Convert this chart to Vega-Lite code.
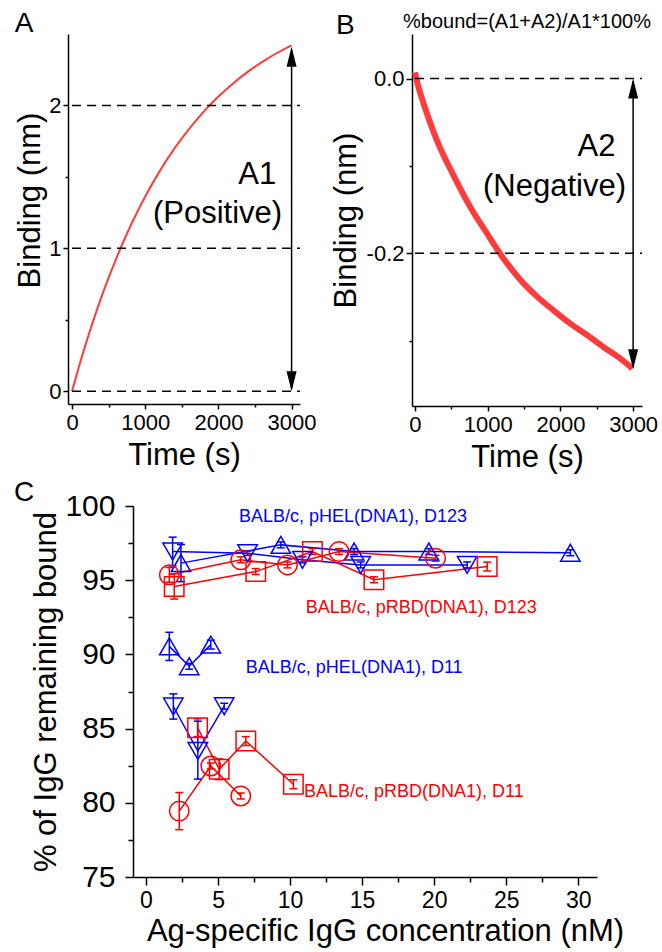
{
  "$schema": "https://vega.github.io/schema/vega-lite/v6.json",
  "padding": {"left": 13, "top": 10, "right": 2, "bottom": 2},
  "spacing": 7,
  "config": {
    "font": "Liberation Sans",
    "view": {"stroke": null},
    "axis": {"grid": false, "domainColor": "black", "tickColor": "black", "labelColor": "black", "titleColor": "black", "titleFontWeight": "normal", "labelFont": "Liberation Sans", "titleFont": "Liberation Sans", "domainWidth": 1.5, "tickWidth": 1.5, "labelFlush": false, "labelOverlap": false},
    "title": {"fontWeight": "normal", "font": "Liberation Sans", "anchor": "start", "frame": "bounds", "fontSize": 28, "color": "black"}
  },
  "datasets": {
    "curveA": [
      {"t": 0, "y": 0}, {"t": 100, "y": 0.181}, {"t": 200, "y": 0.350}, {"t": 300, "y": 0.508}, {"t": 400, "y": 0.656},
      {"t": 500, "y": 0.794}, {"t": 600, "y": 0.923}, {"t": 700, "y": 1.044}, {"t": 800, "y": 1.158}, {"t": 900, "y": 1.263},
      {"t": 1000, "y": 1.363}, {"t": 1200, "y": 1.542}, {"t": 1400, "y": 1.699}, {"t": 1600, "y": 1.836}, {"t": 1800, "y": 1.957},
      {"t": 2000, "y": 2.062}, {"t": 2200, "y": 2.154}, {"t": 2400, "y": 2.235}, {"t": 2600, "y": 2.305}, {"t": 2800, "y": 2.367},
      {"t": 3000, "y": 2.421}
    ],
    "curveB": [
      {"t": 0, "y": 0.007}, {"t": 30, "y": -0.004}, {"t": 70, "y": -0.016}, {"t": 124, "y": -0.030}, {"t": 307, "y": -0.072},
      {"t": 537, "y": -0.112}, {"t": 766, "y": -0.148}, {"t": 995, "y": -0.178}, {"t": 1225, "y": -0.207}, {"t": 1454, "y": -0.231},
      {"t": 1683, "y": -0.250}, {"t": 1913, "y": -0.266}, {"t": 2142, "y": -0.281}, {"t": 2372, "y": -0.294}, {"t": 2601, "y": -0.308},
      {"t": 2830, "y": -0.321}, {"t": 2990, "y": -0.332}
    ],
    "dashA": [{"y": 0, "t0": 0, "t1": 3115}, {"y": 1, "t0": 0, "t1": 3115}, {"y": 2, "t0": 0, "t1": 3115}],
    "dashB": [{"y": 0, "t0": 0, "t1": 3122}, {"y": -0.2, "t0": 0, "t1": 3122}],
    "arrowA": [{"t": 3000, "y1": 0.02, "y2": 2.39}],
    "headAup": [{"t": 3000, "y": 2.41}],
    "headAdown": [{"t": 3000, "y": 0.0}],
    "arrowB": [{"t": 3000, "y1": -0.003, "y2": -0.330}],
    "headBup": [{"t": 3000, "y": 0.0}],
    "headBdown": [{"t": 3000, "y": -0.333}],
    "textA": [{"t": 2530, "y": 1.448, "label": "A1"}, {"t": 1988, "y": 1.175, "label": "(Positive)"}],
    "textB": [{"t": 2497, "y": -0.0885, "label": "A2"}, {"t": 1919, "y": -0.1344, "label": "(Negative)"}],
    "noteB": [{"t": 1541, "y": 0.058, "label": "%bound=(A1+A2)/A1*100%"}],
    "minorA": [{"t": 500, "y": 0.5}, {"t": 1500, "y": 1.5}],
    "minorB": [{"t": 500, "y": -0.1}, {"t": 1500, "y": -0.3}],
    "minorC": [{"x": 2.5, "y": 77.5}, {"x": 7.5, "y": 82.5}],
    "spacer": [{"v": 0}],
    "pts": [
      {"g": "HEL123up", "strain": "pHEL", "sym": "up", "x": 2.43, "y": 96.15, "lo": 94.9, "hi": 97.4},
      {"g": "HEL123up", "strain": "pHEL", "sym": "up", "x": 9.36, "y": 97.38, "lo": 97.18, "hi": 97.58},
      {"g": "HEL123up", "strain": "pHEL", "sym": "up", "x": 14.44, "y": 96.93, "lo": 96.73, "hi": 97.13},
      {"g": "HEL123up", "strain": "pHEL", "sym": "up", "x": 19.63, "y": 96.93, "lo": 96.73, "hi": 97.13},
      {"g": "HEL123up", "strain": "pHEL", "sym": "up", "x": 29.45, "y": 96.85, "lo": 96.65, "hi": 97.05},
      {"g": "HEL123down", "strain": "pHEL", "sym": "down", "x": 1.85, "y": 96.93, "lo": 95.96, "hi": 97.9},
      {"g": "HEL123down", "strain": "pHEL", "sym": "down", "x": 7.05, "y": 96.82, "lo": 96.67, "hi": 96.97},
      {"g": "HEL123down", "strain": "pHEL", "sym": "down", "x": 10.86, "y": 96.37, "lo": 96.17, "hi": 96.57},
      {"g": "HEL123down", "strain": "pHEL", "sym": "down", "x": 14.9, "y": 96.03, "lo": 95.83, "hi": 96.23},
      {"g": "HEL123down", "strain": "pHEL", "sym": "down", "x": 22.29, "y": 96.03, "lo": 95.83, "hi": 96.23},
      {"g": "RBD123circle", "strain": "pRBD", "sym": "circle", "x": 1.62, "y": 95.36, "lo": 94.86, "hi": 95.86},
      {"g": "RBD123circle", "strain": "pRBD", "sym": "circle", "x": 6.58, "y": 96.37, "lo": 96.17, "hi": 96.57},
      {"g": "RBD123circle", "strain": "pRBD", "sym": "circle", "x": 9.82, "y": 96.03, "lo": 95.83, "hi": 96.23},
      {"g": "RBD123circle", "strain": "pRBD", "sym": "circle", "x": 13.4, "y": 96.93, "lo": 96.73, "hi": 97.13},
      {"g": "RBD123circle", "strain": "pRBD", "sym": "circle", "x": 20.1, "y": 96.48, "lo": 96.28, "hi": 96.68},
      {"g": "RBD123square", "strain": "pRBD", "sym": "square", "x": 1.96, "y": 94.58, "lo": 93.73, "hi": 95.43},
      {"g": "RBD123square", "strain": "pRBD", "sym": "square", "x": 7.62, "y": 95.58, "lo": 95.38, "hi": 95.78},
      {"g": "RBD123square", "strain": "pRBD", "sym": "square", "x": 11.55, "y": 96.93, "lo": 96.73, "hi": 97.13},
      {"g": "RBD123square", "strain": "pRBD", "sym": "square", "x": 15.82, "y": 95.03, "lo": 94.83, "hi": 95.23},
      {"g": "RBD123square", "strain": "pRBD", "sym": "square", "x": 23.68, "y": 95.92, "lo": 95.62, "hi": 96.22},
      {"g": "HEL11up", "strain": "pHEL", "sym": "up", "x": 1.62, "y": 90.54, "lo": 89.59, "hi": 91.49},
      {"g": "HEL11up", "strain": "pHEL", "sym": "up", "x": 3.0, "y": 89.2, "lo": 89.0, "hi": 89.4},
      {"g": "HEL11up", "strain": "pHEL", "sym": "up", "x": 4.5, "y": 90.66, "lo": 90.36, "hi": 90.96},
      {"g": "HEL11down", "strain": "pHEL", "sym": "down", "x": 1.9, "y": 86.49, "lo": 85.64, "hi": 87.34},
      {"g": "HEL11down", "strain": "pHEL", "sym": "down", "x": 3.6, "y": 83.49, "lo": 81.6, "hi": 85.5},
      {"g": "HEL11down", "strain": "pHEL", "sym": "down", "x": 5.43, "y": 86.51, "lo": 86.31, "hi": 86.71},
      {"g": "RBD11circle", "strain": "pRBD", "sym": "circle", "x": 2.31, "y": 79.44, "lo": 78.19, "hi": 80.69},
      {"g": "RBD11circle", "strain": "pRBD", "sym": "circle", "x": 4.5, "y": 82.48, "lo": 82.28, "hi": 82.68},
      {"g": "RBD11circle", "strain": "pRBD", "sym": "circle", "x": 6.58, "y": 80.46, "lo": 80.26, "hi": 80.66},
      {"g": "RBD11square", "strain": "pRBD", "sym": "square", "x": 3.58, "y": 85.06, "lo": 84.46, "hi": 85.66},
      {"g": "RBD11square", "strain": "pRBD", "sym": "square", "x": 5.08, "y": 82.26, "lo": 81.56, "hi": 82.96},
      {"g": "RBD11square", "strain": "pRBD", "sym": "square", "x": 6.93, "y": 84.16, "lo": 83.86, "hi": 84.46},
      {"g": "RBD11square", "strain": "pRBD", "sym": "square", "x": 10.23, "y": 81.25, "lo": 80.95, "hi": 81.55}
    ],
    "labelsC": [
      {"x": 6.45, "y": 98.94, "strain": "pHEL", "label": "BALB/c, pHEL(DNA1), D123"},
      {"x": 11.09, "y": 92.79, "strain": "pRBD", "label": "BALB/c, pRBD(DNA1), D123"},
      {"x": 6.93, "y": 88.76, "strain": "pHEL", "label": "BALB/c, pHEL(DNA1), D11"},
      {"x": 10.97, "y": 80.36, "strain": "pRBD", "label": "BALB/c, pRBD(DNA1), D11"}
    ]
  },
  "vconcat": [
    {
      "hconcat": [
        {
          "width": 232, "height": 370,
          "title": {"text": "A", "offset": -4},
          "resolve": {"axis": {"x": "independent", "y": "independent"}},
          "layer": [
            {
              "data": {"name": "curveA"},
              "mark": {"type": "line", "color": "#ff3c3c", "strokeWidth": 2, "interpolate": "monotone"},
              "encoding": {
                "x": {"field": "t", "type": "quantitative", "scale": {"domain": [-55, 3115], "nice": false, "zero": false},
                      "axis": {"values": [0, 1000, 2000, 3000], "format": "d", "title": "Time (s)", "labelFontSize": 22, "titleFontSize": 31, "tickSize": 5, "labelPadding": 3, "titlePadding": 7}},
                "y": {"field": "y", "type": "quantitative", "scale": {"domain": [-0.09, 2.5], "nice": false, "zero": false},
                      "axis": {"values": [0, 1, 2], "title": "Binding (nm)", "labelFontSize": 22, "titleFontSize": 31, "tickSize": 5, "labelPadding": 2, "titlePadding": 2, "titleY": 166}}
              }
            },
            {
              "data": {"name": "minorA"},
              "mark": {"type": "point", "opacity": 0},
              "encoding": {
                "x": {"field": "t", "type": "quantitative", "axis": {"values": [500, 1500, 2500], "labels": false, "title": null, "tickSize": 3, "domain": false, "orient": "bottom"}},
                "y": {"field": "y", "type": "quantitative", "axis": {"values": [0.5, 1.5], "labels": false, "title": null, "tickSize": 3, "domain": false, "orient": "left"}}
              }
            },
            {
              "data": {"name": "dashA"},
              "mark": {"type": "rule", "color": "black", "strokeWidth": 1.5, "strokeDash": [9, 6]},
              "encoding": {
                "x": {"field": "t0", "type": "quantitative", "axis": null},
                "x2": {"field": "t1"},
                "y": {"field": "y", "type": "quantitative", "axis": null}
              }
            },
            {
              "data": {"name": "arrowA"},
              "mark": {"type": "rule", "color": "black", "strokeWidth": 1.5},
              "encoding": {
                "x": {"field": "t", "type": "quantitative", "axis": null},
                "y": {"field": "y1", "type": "quantitative", "axis": null},
                "y2": {"field": "y2"}
              }
            },
            {
              "data": {"name": "headAup"},
              "mark": {"type": "point", "filled": true, "color": "black", "size": 400, "opacity": 1, "shape": "M0,0L0.5,2L-0.5,2Z"},
              "encoding": {
                "x": {"field": "t", "type": "quantitative", "axis": null},
                "y": {"field": "y", "type": "quantitative", "axis": null}
              }
            },
            {
              "data": {"name": "headAdown"},
              "mark": {"type": "point", "filled": true, "color": "black", "size": 400, "opacity": 1, "shape": "M0,0L0.5,-2L-0.5,-2Z"},
              "encoding": {
                "x": {"field": "t", "type": "quantitative", "axis": null},
                "y": {"field": "y", "type": "quantitative", "axis": null}
              }
            },
            {
              "data": {"name": "textA"},
              "mark": {"type": "text", "fontSize": 31, "align": "center", "baseline": "alphabetic", "color": "black"},
              "encoding": {
                "x": {"field": "t", "type": "quantitative", "axis": null},
                "y": {"field": "y", "type": "quantitative", "axis": null},
                "text": {"field": "label"}
              }
            }
          ]
        },
        {
          "width": 230, "height": 372,
          "title": {"text": "B", "offset": -28, "dx": 6},
          "resolve": {"axis": {"x": "independent", "y": "independent"}},
          "layer": [
            {
              "data": {"name": "curveB"},
              "mark": {"type": "line", "color": "#ff3b3b", "strokeWidth": 6, "interpolate": "monotone"},
              "encoding": {
                "x": {"field": "t", "type": "quantitative", "scale": {"domain": [-41, 3122], "nice": false, "zero": false},
                      "axis": {"values": [0, 1000, 2000, 3000], "format": "d", "title": "Time (s)", "labelFontSize": 22, "titleFontSize": 31, "tickSize": 5, "labelPadding": 3, "titlePadding": 7}},
                "y": {"field": "y", "type": "quantitative", "scale": {"domain": [-0.375, 0.051], "nice": false, "zero": false},
                      "axis": {"values": [0, -0.2], "labelExpr": "replace(format(datum.value, '.1f'), '\u2212', '-')", "title": "Binding (nm)", "labelFontSize": 22, "titleFontSize": 31, "tickSize": 6, "labelPadding": 2, "titlePadding": 4}}
              }
            },
            {
              "data": {"name": "minorB"},
              "mark": {"type": "point", "opacity": 0},
              "encoding": {
                "x": {"field": "t", "type": "quantitative", "axis": {"values": [500, 1500, 2500], "labels": false, "title": null, "tickSize": 3, "domain": false, "orient": "bottom"}},
                "y": {"field": "y", "type": "quantitative", "axis": {"values": [-0.1, -0.3], "labels": false, "title": null, "tickSize": 3, "domain": false, "orient": "left"}}
              }
            },
            {
              "data": {"name": "dashB"},
              "mark": {"type": "rule", "color": "black", "strokeWidth": 1.5, "strokeDash": [9, 6]},
              "encoding": {
                "x": {"field": "t0", "type": "quantitative", "axis": null},
                "x2": {"field": "t1"},
                "y": {"field": "y", "type": "quantitative", "axis": null}
              }
            },
            {
              "data": {"name": "arrowB"},
              "mark": {"type": "rule", "color": "black", "strokeWidth": 1.5},
              "encoding": {
                "x": {"field": "t", "type": "quantitative", "axis": null},
                "y": {"field": "y1", "type": "quantitative", "axis": null},
                "y2": {"field": "y2"}
              }
            },
            {
              "data": {"name": "headBup"},
              "mark": {"type": "point", "filled": true, "color": "black", "size": 400, "opacity": 1, "shape": "M0,0L0.5,2L-0.5,2Z"},
              "encoding": {
                "x": {"field": "t", "type": "quantitative", "axis": null},
                "y": {"field": "y", "type": "quantitative", "axis": null}
              }
            },
            {
              "data": {"name": "headBdown"},
              "mark": {"type": "point", "filled": true, "color": "black", "size": 400, "opacity": 1, "shape": "M0,0L0.5,-2L-0.5,-2Z"},
              "encoding": {
                "x": {"field": "t", "type": "quantitative", "axis": null},
                "y": {"field": "y", "type": "quantitative", "axis": null}
              }
            },
            {
              "data": {"name": "textB"},
              "mark": {"type": "text", "fontSize": 31, "align": "center", "baseline": "alphabetic", "color": "black"},
              "encoding": {
                "x": {"field": "t", "type": "quantitative", "axis": null},
                "y": {"field": "y", "type": "quantitative", "axis": null},
                "text": {"field": "label"}
              }
            },
            {
              "data": {"name": "noteB"},
              "mark": {"type": "text", "fontSize": 20, "align": "center", "baseline": "alphabetic", "color": "black"},
              "encoding": {
                "x": {"field": "t", "type": "quantitative", "axis": null},
                "y": {"field": "y", "type": "quantitative", "axis": null},
                "text": {"field": "label"}
              }
            }
          ]
        }
      ],
      "spacing": 13
    },
    {
      "hconcat": [
        {
          "width": 1, "height": 1,
          "data": {"name": "spacer"},
          "mark": {"type": "point", "opacity": 0, "size": 1},
          "encoding": {}
        },
        {
          "width": 464, "height": 371,
          "title": {"text": "C", "offset": -16, "dx": -17},
          "resolve": {"axis": {"x": "independent", "y": "independent"}},
          "layer": [
            {
              "data": {"name": "pts"},
              "mark": {"type": "line", "strokeWidth": 1.5},
              "encoding": {
                "x": {"field": "x", "type": "quantitative", "scale": {"domain": [-0.9, 31.3], "nice": false, "zero": false},
                      "axis": {"values": [0, 5, 10, 15, 20, 25, 30], "title": "Ag-specific IgG concentration (nM)", "labelFontSize": 23, "titleFontSize": 31, "tickSize": 8, "labelPadding": 4, "titlePadding": 4, "titleX": 252}},
                "y": {"field": "y", "type": "quantitative", "scale": {"domain": [75, 100], "nice": false, "zero": false},
                      "axis": {"values": [75, 80, 85, 90, 95, 100], "title": "% of IgG remaining bound", "labelFontSize": 30, "titleFontSize": 31, "tickSize": 8, "labelPadding": 10, "titlePadding": 2}},
                "color": {"field": "strain", "type": "nominal", "scale": {"domain": ["pHEL", "pRBD"], "range": ["#0000ff", "#ff0000"]}, "legend": null},
                "detail": {"field": "g", "type": "nominal"}
              }
            },
            {
              "data": {"name": "minorC"},
              "mark": {"type": "point", "opacity": 0},
              "encoding": {
                "x": {"field": "x", "type": "quantitative", "axis": {"values": [2.5, 7.5, 12.5, 17.5, 22.5, 27.5], "labels": false, "title": null, "tickSize": 5, "domain": false, "orient": "bottom"}},
                "y": {"field": "y", "type": "quantitative", "axis": {"values": [77.5, 82.5, 87.5, 92.5, 97.5], "labels": false, "title": null, "tickSize": 5, "domain": false, "orient": "left"}}
              }
            },
            {
              "data": {"name": "pts"},
              "mark": {"type": "rule", "strokeWidth": 1.5},
              "encoding": {
                "x": {"field": "x", "type": "quantitative", "axis": null},
                "y": {"field": "lo", "type": "quantitative", "axis": null},
                "y2": {"field": "hi"},
                "color": {"field": "strain", "type": "nominal", "legend": null}
              }
            },
            {
              "data": {"name": "pts"},
              "mark": {"type": "point", "shape": "stroke", "size": 64, "strokeWidth": 1.5, "opacity": 1},
              "encoding": {
                "x": {"field": "x", "type": "quantitative", "axis": null},
                "y": {"field": "lo", "type": "quantitative", "axis": null},
                "color": {"field": "strain", "type": "nominal", "legend": null}
              }
            },
            {
              "data": {"name": "pts"},
              "mark": {"type": "point", "shape": "stroke", "size": 64, "strokeWidth": 1.5, "opacity": 1},
              "encoding": {
                "x": {"field": "x", "type": "quantitative", "axis": null},
                "y": {"field": "hi", "type": "quantitative", "axis": null},
                "color": {"field": "strain", "type": "nominal", "legend": null}
              }
            },
            {
              "data": {"name": "pts"},
              "mark": {"type": "point", "filled": false, "strokeWidth": 1.5, "opacity": 1},
              "encoding": {
                "x": {"field": "x", "type": "quantitative", "axis": null},
                "y": {"field": "y", "type": "quantitative", "axis": null},
                "color": {"field": "strain", "type": "nominal", "legend": null},
                "shape": {"field": "sym", "type": "nominal", "scale": {"domain": ["up", "down", "circle", "square"], "range": ["triangle-up", "triangle-down", "circle", "square"]}, "legend": null},
                "size": {"field": "sym", "type": "nominal", "scale": {"domain": ["up", "down", "circle", "square"], "range": [380, 380, 280, 240]}, "legend": null}
              }
            },
            {
              "data": {"name": "labelsC"},
              "mark": {"type": "text", "fontSize": 18, "align": "left", "baseline": "alphabetic"},
              "encoding": {
                "x": {"field": "x", "type": "quantitative", "axis": null},
                "y": {"field": "y", "type": "quantitative", "axis": null},
                "text": {"field": "label"},
                "color": {"field": "strain", "type": "nominal", "legend": null}
              }
            }
          ]
        }
      ],
      "spacing": -56
    }
  ]
}
